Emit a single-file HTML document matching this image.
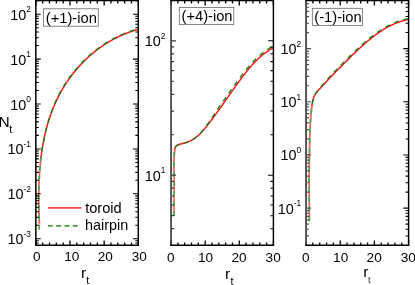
<!DOCTYPE html><html><head><meta charset="utf-8"><style>html,body{margin:0;padding:0;background:#fff}body{width:415px;height:285px;overflow:hidden}</style></head><body><svg width="415" height="285" viewBox="0 0 415 285" style="will-change:transform;display:block;font-family:'Liberation Sans',sans-serif"><rect width="415" height="285" fill="#fff"/><path d="M39.47,224.27L39.42,223.31L39.38,222.35L39.34,221.39L39.29,220.43L39.25,219.47L39.22,218.50L39.18,217.53L39.14,216.56L39.11,215.59L39.07,214.62L39.04,213.64L39.01,212.67L38.98,211.69L38.96,210.71L38.93,209.73L38.91,208.75L38.89,207.77L38.87,206.79L38.85,205.80L38.83,204.82L38.82,203.83L38.81,202.84L38.80,201.85L38.79,200.86L38.78,199.87L38.78,198.88L38.78,197.89L38.78,196.90L38.78,195.90L38.79,194.91L38.79,193.91L38.80,192.91L38.81,191.92L38.83,190.92L38.85,189.92L38.87,188.92L38.89,187.92L38.91,186.92L38.94,185.92L38.97,184.92L39.01,183.92L39.04,182.92L39.08,181.92L39.12,180.92L39.17,179.92L39.21,178.91L39.26,177.91L39.32,176.91L39.37,175.91L39.43,174.90L39.50,173.90L39.56,172.90L39.63,171.90L39.70,170.89L39.78,169.89L39.86,168.89L39.94,167.89L40.03,166.89L40.12,165.89L40.21,164.89L40.31,163.88L40.41,162.88L40.51,161.88L40.62,160.89L40.73,159.89L40.84,158.89L40.96,157.89" fill="none" stroke="#ff5c5c" stroke-width="1.7"/><path d="M40.96,157.89L41.08,156.89L41.21,155.90L41.34,154.90L41.47,153.91L41.61,152.91L41.75,151.92L41.90,150.93L42.05,149.94L42.20,148.95L42.36,147.96L42.52,146.97L42.69,145.98L42.86,144.99L43.04,144.01L43.22,143.02L43.40,142.04L43.59,141.06L43.79,140.08L43.98,139.10L44.19,138.12L44.39,137.14L44.60,136.16L44.82,135.19L45.04,134.22L45.27,133.25L45.50,132.28L45.74,131.31L45.98,130.34L46.22,129.38L46.47,128.41L46.73,127.45L46.99,126.49L47.25,125.53L47.52,124.58L47.80,123.62L48.08,122.67L48.37,121.72L48.66,120.77L48.96,119.83L49.26,118.88L49.57,117.94L49.88,117.00L50.20,116.06L50.52,115.12L50.85,114.19L51.19,113.26L51.53,112.33L51.88,111.40L52.23,110.48L52.59,109.56L52.95,108.64L53.32,107.72L53.70,106.80L54.08,105.89L54.47,104.98L54.87,104.07L55.27,103.17L55.67,102.27L56.08,101.37L56.50,100.47L56.93,99.58L57.36,98.69L57.80,97.80L58.24,96.92L58.69,96.04L59.14,95.16L59.61,94.28L60.07,93.41L60.55,92.54L61.03,91.67L61.52,90.81L62.01,89.95L62.51,89.09L63.01,88.24L63.52,87.39L64.04,86.55L64.56,85.70L65.09,84.87L65.62,84.03L66.16,83.20L66.71,82.37L67.26,81.55L67.82,80.73L68.38,79.92L68.95,79.10L69.52,78.30L70.10,77.49L70.69,76.69L71.28,75.90L71.88,75.11L72.48,74.32L73.09,73.54L73.70,72.76L74.32,71.99L74.95,71.22L75.58,70.45L76.22,69.69L76.86,68.94L77.50,68.19L78.16,67.44L78.82,66.70L79.48,65.96L80.15,65.23L80.82,64.51L81.50,63.78L82.19,63.07L82.88,62.36L83.57,61.65L84.28,60.95L84.98,60.25L85.69,59.56L86.41,58.88L87.13,58.20L87.86,57.52L88.59,56.85L89.33,56.19L90.07,55.53L90.82,54.88L91.57,54.23L92.33,53.59L93.09,52.95L93.86,52.33L94.63,51.70L95.41,51.08L96.19,50.47L96.98,49.87L97.77,49.27L98.57,48.67L99.37,48.09L100.18,47.50L100.99,46.93L101.81,46.36L102.63,45.80L103.46,45.24L104.29,44.69L105.12,44.15L105.96,43.61L106.81,43.08L107.66,42.56L108.51,42.04L109.37,41.53L110.23,41.03L111.10,40.54L111.97,40.05L112.85,39.56L113.73,39.09L114.62,38.62L115.51,38.16L116.40,37.71L117.30,37.26L118.21,36.82L119.12,36.39L120.03,35.96L120.95,35.55L121.87,35.14L122.79,34.73L123.72,34.34L124.66,33.95L125.60,33.57L126.54,33.20L127.49,32.84L128.44,32.48L129.39,32.13L130.35,31.79L131.31,31.46L132.28,31.13L133.25,30.82L134.23,30.51L135.21,30.21L136.19,29.92L137.18,29.63L138.17,29.36" fill="none" stroke="#ff1a1a" stroke-width="1.5" stroke-linejoin="round"/><path d="M39.00,229.70L39.47,224.27L39.42,223.31L39.38,222.35L39.34,221.39L39.29,220.43L39.25,219.47L39.22,218.50L39.18,217.53L39.14,216.56L39.11,215.59L39.07,214.62L39.04,213.64L39.01,212.67L38.98,211.69L38.96,210.71L38.93,209.73L38.91,208.75L38.89,207.77L38.87,206.79L38.85,205.80L38.83,204.82L38.82,203.83L38.81,202.84L38.80,201.85L38.79,200.86L38.78,199.87L38.78,198.88L38.78,197.89L38.78,196.90L38.78,195.90L38.79,194.91L38.79,193.91L38.80,192.91L38.81,191.92L38.83,190.92L38.85,189.92L38.87,188.92L38.89,187.92L38.91,186.92L38.94,185.92L38.97,184.92L39.01,183.92L39.04,182.92L39.08,181.92L39.12,180.92L39.17,179.92L39.21,178.91L39.26,177.91L39.32,176.91L39.37,175.91L39.43,174.90L39.50,173.90L39.56,172.90L39.63,171.90L39.70,170.89L39.78,169.89L39.86,168.89L39.94,167.89L40.03,166.89L40.12,165.89L40.21,164.89L40.31,163.88L40.41,162.88L40.51,161.88L40.62,160.89L40.73,159.89L40.84,158.89L40.96,157.89L40.96,157.89" fill="none" stroke="#4fa84f" stroke-width="1.7" stroke-dasharray="5.0 4.8"/><path d="M40.96,157.89L41.08,156.89L41.21,155.90L41.34,154.90L41.47,153.91L41.61,152.91L41.75,151.92L41.90,150.93L42.04,149.94L42.20,148.94L42.35,147.95L42.51,146.96L42.67,145.98L42.84,144.99L43.01,144.00L43.19,143.02L43.37,142.03L43.55,141.05L43.74,140.07L43.93,139.08L44.13,138.11L44.33,137.13L44.54,136.15L44.75,135.17L44.96,134.20L45.19,133.23L45.41,132.26L45.64,131.29L45.88,130.32L46.12,129.35L46.36,128.38L46.61,127.42L46.86,126.46L47.12,125.50L47.39,124.54L47.66,123.58L47.93,122.63L48.21,121.67L48.50,120.72L48.79,119.77L49.08,118.82L49.38,117.88L49.69,116.93L50.00,115.99L50.32,115.05L50.64,114.11L50.97,113.18L51.30,112.24L51.64,111.31L51.99,110.38L52.34,109.46L52.70,108.53L53.06,107.61L53.43,106.69L53.80,105.77L54.18,104.86L54.57,103.94L54.96,103.03L55.36,102.13L55.76,101.22L56.17,100.32L56.59,99.42L57.01,98.52L57.44,97.62L57.87,96.73L58.31,95.84L58.76,94.96L59.21,94.07L59.67,93.19L60.14,92.31L60.61,91.44L61.09,90.57L61.57,89.70L62.07,88.84L62.58,87.99L63.09,87.13L63.61,86.28L64.13,85.44L64.66,84.60L65.20,83.76L65.74,82.93L66.29,82.10L66.84,81.27L67.40,80.45L67.97,79.63L68.54,78.82L69.12,78.00L69.70,77.20L70.29,76.40L70.88,75.60L71.48,74.80L72.08,74.01L72.70,73.23L73.31,72.45L73.93,71.67L74.56,70.90L75.19,70.13L75.83,69.37L76.48,68.61L77.13,67.86L77.78,67.11L78.44,66.37L79.11,65.63L79.78,64.89L80.46,64.16L81.14,63.44L81.83,62.72L82.52,62.01L83.22,61.30L83.92,60.59L84.63,59.89L85.35,59.20L86.07,58.51L86.79,57.83L87.52,57.15L88.26,56.48L89.00,55.82L89.74,55.16L90.49,54.50L91.25,53.85L92.01,53.21L92.77,52.57L93.54,51.94L94.32,51.31L95.10,50.69L95.89,50.08L96.68,49.47L97.47,48.87L98.27,48.27L99.08,47.68L99.89,47.10L100.70,46.52L101.52,45.95L102.35,45.38L103.18,44.83L104.01,44.28L104.85,43.73L105.70,43.19L106.54,42.66L107.40,42.13L108.25,41.62L109.12,41.10L109.98,40.60L110.86,40.10L111.73,39.61L112.61,39.13L113.50,38.65L114.39,38.18L115.28,37.72L116.18,37.26L117.08,36.81L117.99,36.37L118.90,35.94L119.82,35.51L120.74,35.09L121.67,34.68L122.60,34.28L123.53,33.88L124.47,33.49L125.41,33.11L126.36,32.74L127.31,32.37L128.26,32.01L129.22,31.66L130.19,31.32L131.15,30.99L132.12,30.66L133.10,30.34L134.08,30.03L135.06,29.73L136.05,29.44L137.04,29.15L138.04,28.87" fill="none" stroke="#148214" stroke-width="1.35" stroke-dasharray="5.0 4.8" stroke-dashoffset="3.32" stroke-linejoin="round"/><path d="M35.85,243.05h3.0M35.85,240.75h3.0M35.85,238.70h4.9M35.85,225.18h3.0M35.85,217.28h3.0M35.85,211.67h3.0M35.85,207.32h3.0M35.85,203.76h3.0M35.85,200.76h3.0M35.85,198.15h3.0M35.85,195.85h3.0M35.85,193.80h4.9M35.85,180.28h3.0M35.85,172.38h3.0M35.85,166.77h3.0M35.85,162.42h3.0M35.85,158.86h3.0M35.85,155.86h3.0M35.85,153.25h3.0M35.85,150.95h3.0M35.85,148.90h4.9M35.85,135.38h3.0M35.85,127.48h3.0M35.85,121.87h3.0M35.85,117.52h3.0M35.85,113.96h3.0M35.85,110.96h3.0M35.85,108.35h3.0M35.85,106.05h3.0M35.85,104.00h4.9M35.85,90.48h3.0M35.85,82.58h3.0M35.85,76.97h3.0M35.85,72.62h3.0M35.85,69.06h3.0M35.85,66.06h3.0M35.85,63.45h3.0M35.85,61.15h3.0M35.85,59.10h4.9M35.85,45.58h3.0M35.85,37.68h3.0M35.85,32.07h3.0M35.85,27.72h3.0M35.85,24.16h3.0M35.85,21.16h3.0M35.85,18.55h3.0M35.85,16.25h3.0M35.85,14.20h4.9M35.85,0.68h3.0" fill="none" stroke="#000" stroke-width="1.05"/><path d="M138.30,243.05h-3.0M138.30,240.75h-3.0M138.30,238.70h-5.300000000000001M138.30,225.18h-3.0M138.30,217.28h-3.0M138.30,211.67h-3.0M138.30,207.32h-3.0M138.30,203.76h-3.0M138.30,200.76h-3.0M138.30,198.15h-3.0M138.30,195.85h-3.0M138.30,193.80h-5.300000000000001M138.30,180.28h-3.0M138.30,172.38h-3.0M138.30,166.77h-3.0M138.30,162.42h-3.0M138.30,158.86h-3.0M138.30,155.86h-3.0M138.30,153.25h-3.0M138.30,150.95h-3.0M138.30,148.90h-5.300000000000001M138.30,135.38h-3.0M138.30,127.48h-3.0M138.30,121.87h-3.0M138.30,117.52h-3.0M138.30,113.96h-3.0M138.30,110.96h-3.0M138.30,108.35h-3.0M138.30,106.05h-3.0M138.30,104.00h-5.300000000000001M138.30,90.48h-3.0M138.30,82.58h-3.0M138.30,76.97h-3.0M138.30,72.62h-3.0M138.30,69.06h-3.0M138.30,66.06h-3.0M138.30,63.45h-3.0M138.30,61.15h-3.0M138.30,59.10h-5.300000000000001M138.30,45.58h-3.0M138.30,37.68h-3.0M138.30,32.07h-3.0M138.30,27.72h-3.0M138.30,24.16h-3.0M138.30,21.16h-3.0M138.30,18.55h-3.0M138.30,16.25h-3.0M138.30,14.20h-5.300000000000001M138.30,0.68h-3.0" fill="none" stroke="#000" stroke-width="1.05"/><path d="M35.85,0.6v4.9M35.85,245.2v-4.8M42.68,0.6v2.95M42.68,245.2v-2.6M49.51,0.6v2.95M49.51,245.2v-2.6M56.34,0.6v2.95M56.34,245.2v-2.6M63.17,0.6v2.95M63.17,245.2v-2.6M70.00,0.6v4.9M70.00,245.2v-4.8M76.83,0.6v2.95M76.83,245.2v-2.6M83.66,0.6v2.95M83.66,245.2v-2.6M90.49,0.6v2.95M90.49,245.2v-2.6M97.32,0.6v2.95M97.32,245.2v-2.6M104.15,0.6v4.9M104.15,245.2v-4.8M110.98,0.6v2.95M110.98,245.2v-2.6M117.81,0.6v2.95M117.81,245.2v-2.6M124.64,0.6v2.95M124.64,245.2v-2.6M131.47,0.6v2.95M131.47,245.2v-2.6M138.30,0.6v4.9M138.30,245.2v-4.8" fill="none" stroke="#000" stroke-width="1.3"/><path d="M35.85,-0.09999999999999998V245.89999999999998" stroke="#000" stroke-width="1.5"/><path d="M138.30,-0.09999999999999998V245.89999999999998M35.10,0.6H139.05M35.10,245.2H139.05" stroke="#000" stroke-width="1.45" fill="none"/><text x="26.34" y="19.7" font-size="14.4" text-anchor="end">10</text><text x="30.95" y="12.4" font-size="8.3" text-anchor="end">2</text><text x="26.34" y="64.6" font-size="14.4" text-anchor="end">10</text><text x="30.95" y="57.3" font-size="8.3" text-anchor="end">1</text><text x="26.34" y="109.5" font-size="14.4" text-anchor="end">10</text><text x="30.95" y="102.2" font-size="8.3" text-anchor="end">0</text><text x="23.57" y="154.4" font-size="14.4" text-anchor="end">10</text><text x="30.95" y="147.1" font-size="8.3" text-anchor="end">-1</text><text x="23.57" y="199.3" font-size="14.4" text-anchor="end">10</text><text x="30.95" y="192.0" font-size="8.3" text-anchor="end">-2</text><text x="23.57" y="244.2" font-size="14.4" text-anchor="end">10</text><text x="30.95" y="236.9" font-size="8.3" text-anchor="end">-3</text><text x="36.90" y="261.3" font-size="13.6" text-anchor="middle">0</text><text x="71.75" y="261.3" font-size="13.6" text-anchor="middle">10</text><text x="105.20" y="261.3" font-size="13.6" text-anchor="middle">20</text><text x="139.35" y="261.3" font-size="13.6" text-anchor="middle">30</text><text x="80.9" y="277.6" font-size="15.5">r</text><text x="86.3" y="283.9" font-size="10.8">t</text><rect x="43.6" y="8.8" width="54.7" height="17.4" fill="#fff" stroke="#666" stroke-width="0.8"/><text x="45.8" y="23.0" font-size="14.7">(+1)-ion</text><path d="M174.14,215.00L174.11,214.12L174.09,213.24L174.07,212.36L174.05,211.48L174.04,210.59L174.03,209.71L174.03,208.83L174.02,207.95L174.02,207.07L174.02,206.19L174.02,205.31L174.02,204.43L174.03,203.55L174.03,202.67L174.04,201.79L174.05,200.91L174.06,200.03L174.07,199.15L174.08,198.28L174.09,197.40L174.11,196.52L174.12,195.64L174.13,194.76L174.14,193.88L174.15,193.00L174.16,192.12L174.17,191.25L174.18,190.37L174.19,189.49L174.20,188.61L174.21,187.73L174.21,186.85L174.21,185.97L174.21,185.09L174.21,184.21L174.21,183.33L174.20,182.45L174.20,181.57L174.19,180.69L174.17,179.81L174.16,178.93L174.14,178.05L174.13,177.17L174.11,176.29L174.09,175.40L174.07,174.52L174.05,173.64L174.03,172.76L174.02,171.88L174.00,171.00L173.99,170.11L173.97,169.23L173.96,168.35L173.95,167.47L173.94,166.58L173.94,165.70L173.94,164.82L173.94,163.94L173.95,163.05L173.96,162.17L173.97,161.29L173.99,160.41L174.02,159.53L174.05,158.64L174.08,157.76L174.12,156.88L174.17,156.00L174.22,155.11L174.29,154.23L174.35,153.35L174.43,152.47L174.51,151.59L174.60,150.71L174.71,149.83" fill="none" stroke="#ff5c5c" stroke-width="1.7"/><path d="M174.71,149.83L174.85,148.98L175.04,148.16L175.30,147.39L175.65,146.69L176.10,146.07L176.69,145.55L177.39,145.13L178.19,144.79L179.05,144.50L179.93,144.23L180.81,143.98L181.70,143.74L182.60,143.51L183.49,143.28L184.38,143.04L185.26,142.80L186.13,142.54L186.98,142.25L187.82,141.95L188.65,141.62L189.46,141.26L190.25,140.89L191.03,140.49L191.79,140.08L192.55,139.64L193.29,139.19L194.01,138.71L194.73,138.22L195.43,137.71L196.12,137.19L196.80,136.65L197.46,136.10L198.12,135.53L198.77,134.95L199.41,134.35L200.04,133.74L200.66,133.13L201.27,132.50L201.88,131.86L202.48,131.21L203.07,130.55L203.65,129.89L204.23,129.22L204.80,128.54L205.37,127.86L205.93,127.17L206.49,126.48L207.04,125.78L207.59,125.08L208.14,124.38L208.69,123.67L209.23,122.97L209.77,122.27L210.31,121.56L210.84,120.86L211.37,120.15L211.91,119.44L212.44,118.73L212.96,118.03L213.49,117.32L214.01,116.61L214.54,115.90L215.06,115.19L215.58,114.48L216.09,113.76L216.61,113.05L217.13,112.34L217.64,111.63L218.15,110.91L218.66,110.20L219.17,109.49L219.68,108.77L220.19,108.06L220.70,107.34L221.21,106.63L221.71,105.91L222.22,105.20L222.72,104.48L223.23,103.77L223.73,103.05L224.24,102.33L224.74,101.62L225.24,100.90L225.74,100.18L226.25,99.47L226.75,98.75L227.25,98.03L227.75,97.32L228.26,96.60L228.76,95.88L229.26,95.16L229.77,94.45L230.27,93.73L230.77,93.01L231.28,92.30L231.78,91.58L232.29,90.86L232.80,90.15L233.30,89.43L233.81,88.72L234.32,88.00L234.83,87.29L235.34,86.57L235.85,85.85L236.37,85.14L236.88,84.43L237.40,83.71L237.91,83.00L238.43,82.29L238.95,81.57L239.48,80.86L240.00,80.15L240.52,79.44L241.05,78.73L241.58,78.02L242.11,77.31L242.64,76.60L243.18,75.89L243.72,75.19L244.26,74.49L244.80,73.79L245.35,73.09L245.89,72.39L246.45,71.70L247.00,71.01L247.56,70.32L248.12,69.64L248.68,68.96L249.25,68.28L249.82,67.61L250.40,66.94L250.98,66.27L251.56,65.61L252.15,64.95L252.74,64.30L253.34,63.65L253.94,63.01L254.54,62.38L255.15,61.74L255.77,61.12L256.39,60.50L257.01,59.89L257.64,59.28L258.28,58.68L258.92,58.08L259.56,57.50L260.22,56.92L260.87,56.34L261.54,55.78L262.21,55.22L262.88,54.67L263.56,54.12L264.25,53.59L264.94,53.06L265.64,52.55L266.35,52.04L267.06,51.54L267.78,51.05L268.51,50.56L269.25,50.09L269.99,49.63L270.74,49.18L271.49,48.73L272.26,48.30L273.03,47.88" fill="none" stroke="#ff1a1a" stroke-width="1.5" stroke-linejoin="round"/><path d="M174.10,215.90L174.14,215.00L174.11,214.12L174.09,213.24L174.07,212.36L174.05,211.48L174.04,210.59L174.03,209.71L174.03,208.83L174.02,207.95L174.02,207.07L174.02,206.19L174.02,205.31L174.02,204.43L174.03,203.55L174.03,202.67L174.04,201.79L174.05,200.91L174.06,200.03L174.07,199.15L174.08,198.28L174.09,197.40L174.11,196.52L174.12,195.64L174.13,194.76L174.14,193.88L174.15,193.00L174.16,192.12L174.17,191.25L174.18,190.37L174.19,189.49L174.20,188.61L174.21,187.73L174.21,186.85L174.21,185.97L174.21,185.09L174.21,184.21L174.21,183.33L174.20,182.45L174.20,181.57L174.19,180.69L174.17,179.81L174.16,178.93L174.14,178.05L174.13,177.17L174.11,176.29L174.09,175.40L174.07,174.52L174.05,173.64L174.03,172.76L174.02,171.88L174.00,171.00L173.99,170.11L173.97,169.23L173.96,168.35L173.95,167.47L173.94,166.58L173.94,165.70L173.94,164.82L173.94,163.94L173.95,163.05L173.96,162.17L173.97,161.29L173.99,160.41L174.02,159.53L174.05,158.64L174.08,157.76L174.12,156.88L174.17,156.00L174.22,155.11L174.29,154.23L174.35,153.35L174.43,152.47L174.51,151.59L174.60,150.71L174.71,149.83L174.71,149.83" fill="none" stroke="#4fa84f" stroke-width="1.7" stroke-dasharray="5.0 4.8"/><path d="M174.71,149.83L174.85,148.98L175.04,148.16L175.30,147.39L175.65,146.69L176.10,146.07L176.69,145.55L177.39,145.13L178.19,144.79L179.05,144.50L179.93,144.23L180.81,143.98L181.70,143.74L182.60,143.51L183.49,143.28L184.38,143.04L185.26,142.80L186.13,142.54L186.98,142.25L187.82,141.95L188.65,141.62L189.46,141.26L190.25,140.89L191.03,140.49L191.79,140.08L192.55,139.64L193.29,139.19L194.01,138.71L194.73,138.22L195.43,137.71L196.12,137.19L196.80,136.65L197.46,136.10L198.12,135.53L198.77,134.95L199.39,134.33L199.99,133.70L200.58,133.05L201.16,132.39L201.74,131.73L202.30,131.05L202.86,130.37L203.41,129.68L203.96,128.99L204.50,128.29L205.04,127.58L205.57,126.87L206.09,126.16L206.62,125.44L207.14,124.72L207.65,124.00L208.17,123.27L208.68,122.55L209.19,121.82L209.69,121.10L210.20,120.37L210.70,119.64L211.20,118.92L211.70,118.19L212.20,117.46L212.70,116.73L213.19,116.00L213.68,115.27L214.18,114.54L214.67,113.81L215.15,113.08L215.64,112.35L216.13,111.62L216.61,110.89L217.09,110.15L217.58,109.42L218.06,108.69L218.54,107.96L219.02,107.22L219.50,106.49L219.98,105.76L220.49,105.05L220.99,104.33L221.50,103.62L222.00,102.90L222.50,102.19L223.01,101.47L223.51,100.75L224.01,100.04L224.52,99.32L225.02,98.61L225.52,97.89L226.02,97.17L226.53,96.45L227.03,95.74L227.53,95.02L228.03,94.30L228.54,93.59L229.04,92.87L229.55,92.15L230.05,91.43L230.56,90.72L231.06,90.00L231.57,89.28L232.08,88.56L232.59,87.85L233.10,87.13L233.61,86.41L234.12,85.70L234.63,84.98L235.15,84.26L235.66,83.55L236.18,82.83L236.70,82.12L237.22,81.40L237.74,80.69L238.27,79.97L238.79,79.26L239.32,78.54L239.85,77.83L240.38,77.12L240.91,76.41L241.45,75.69L241.99,74.98L242.53,74.28L243.07,73.57L243.62,72.86L244.17,72.16L244.72,71.46L245.27,70.76L245.83,70.07L246.40,69.37L246.96,68.68L247.53,68.00L248.11,67.31L248.68,66.63L249.27,65.95L249.85,65.28L250.44,64.61L251.04,63.95L251.64,63.29L252.24,62.63L252.85,61.98L253.46,61.34L254.08,60.70L254.70,60.06L255.33,59.43L255.97,58.81L256.61,58.19L257.25,57.58L257.90,56.98L258.56,56.38L259.22,55.79L259.89,55.21L260.57,54.63L261.25,54.06L261.94,53.50L262.63,52.95L263.34,52.40L264.04,51.86L264.76,51.33L265.48,50.81L266.21,50.30L266.95,49.80L267.69,49.31L268.44,48.82L269.20,48.35L269.97,47.89L270.75,47.43L271.53,46.99L272.32,46.56" fill="none" stroke="#148214" stroke-width="1.35" stroke-dasharray="5.0 4.8" stroke-dashoffset="7.30" stroke-linejoin="round"/><path d="M171.05,228.68h3.0M171.05,215.66h3.0M171.05,205.02h3.0M171.05,196.02h3.0M171.05,188.22h3.0M171.05,181.35h3.0M171.05,175.20h4.9M171.05,134.74h3.0M171.05,111.07h3.0M171.05,94.28h3.0M171.05,81.26h3.0M171.05,70.62h3.0M171.05,61.62h3.0M171.05,53.82h3.0M171.05,46.95h3.0M171.05,40.80h4.9" fill="none" stroke="#3a3a3a" stroke-width="1.2"/><path d="M273.40,228.68h-3.0M273.40,215.66h-3.0M273.40,205.02h-3.0M273.40,196.02h-3.0M273.40,188.22h-3.0M273.40,181.35h-3.0M273.40,175.20h-5.300000000000001M273.40,134.74h-3.0M273.40,111.07h-3.0M273.40,94.28h-3.0M273.40,81.26h-3.0M273.40,70.62h-3.0M273.40,61.62h-3.0M273.40,53.82h-3.0M273.40,46.95h-3.0M273.40,40.80h-5.300000000000001" fill="none" stroke="#000" stroke-width="1.05"/><path d="M171.05,0.6v4.9M171.05,245.2v-4.8M177.87,0.6v2.95M177.87,245.2v-2.6M184.70,0.6v2.95M184.70,245.2v-2.6M191.52,0.6v2.95M191.52,245.2v-2.6M198.34,0.6v2.95M198.34,245.2v-2.6M205.17,0.6v4.9M205.17,245.2v-4.8M211.99,0.6v2.95M211.99,245.2v-2.6M218.81,0.6v2.95M218.81,245.2v-2.6M225.64,0.6v2.95M225.64,245.2v-2.6M232.46,0.6v2.95M232.46,245.2v-2.6M239.28,0.6v4.9M239.28,245.2v-4.8M246.11,0.6v2.95M246.11,245.2v-2.6M252.93,0.6v2.95M252.93,245.2v-2.6M259.75,0.6v2.95M259.75,245.2v-2.6M266.58,0.6v2.95M266.58,245.2v-2.6M273.40,0.6v4.9M273.40,245.2v-4.8" fill="none" stroke="#000" stroke-width="1.3"/><path d="M171.05,-0.09999999999999998V245.89999999999998" stroke="#3a3a3a" stroke-width="1.65"/><path d="M273.40,-0.09999999999999998V245.89999999999998M170.30,0.6H274.15M170.30,245.2H274.15" stroke="#000" stroke-width="1.45" fill="none"/><text x="160.84" y="46.3" font-size="14.4" text-anchor="end">10</text><text x="165.45" y="39.0" font-size="8.3" text-anchor="end">2</text><text x="160.84" y="180.7" font-size="14.4" text-anchor="end">10</text><text x="165.45" y="173.4" font-size="8.3" text-anchor="end">1</text><text x="170.80" y="261.6" font-size="13.6" text-anchor="middle">0</text><text x="205.62" y="261.6" font-size="13.6" text-anchor="middle">10</text><text x="239.03" y="261.6" font-size="13.6" text-anchor="middle">20</text><text x="273.15" y="261.6" font-size="13.6" text-anchor="middle">30</text><text x="225.0" y="278.8" font-size="15.5">r</text><text x="230.4" y="285.1" font-size="10.8">t</text><rect x="179.3" y="7.5" width="54.5" height="17.0" fill="#fff" stroke="#666" stroke-width="0.8"/><text x="181.5" y="21.3" font-size="14.7">(+4)-ion</text><path d="M309.36,217.52L309.35,216.49L309.34,215.46L309.33,214.43L309.32,213.40L309.31,212.37L309.30,211.34L309.29,210.32L309.29,209.29L309.28,208.26L309.27,207.23L309.26,206.20L309.26,205.18L309.25,204.15L309.24,203.12L309.24,202.09L309.23,201.07L309.22,200.04L309.22,199.02L309.21,197.99L309.21,196.96L309.20,195.94L309.20,194.91L309.20,193.89L309.19,192.86L309.19,191.84L309.19,190.81L309.18,189.79L309.18,188.76L309.18,187.74L309.18,186.71L309.18,185.69L309.18,184.66L309.18,183.64L309.18,182.61L309.18,181.59L309.18,180.57L309.18,179.54L309.18,178.52L309.19,177.49L309.19,176.47L309.19,175.45L309.20,174.42L309.20,173.40L309.21,172.38L309.21,171.35L309.22,170.33L309.23,169.30L309.24,168.28L309.24,167.26L309.25,166.23L309.26,165.21L309.27,164.18L309.28,163.16L309.29,162.14L309.31,161.11L309.32,160.09L309.33,159.06L309.35,158.04L309.36,157.01L309.38,155.99L309.39,154.96L309.41,153.94L309.43,152.91L309.45,151.89L309.46,150.86L309.48,149.84L309.51,148.81L309.53,147.79L309.55,146.76L309.57,145.73L309.60,144.71L309.62,143.68L309.65,142.66L309.67,141.63L309.70,140.60L309.73,139.57L309.76,138.55L309.79,137.52L309.82,136.49L309.85,135.46L309.88,134.43L309.91,133.40L309.95,132.38L309.99,131.35L310.03,130.32L310.07,129.29L310.11,128.26L310.16,127.23L310.20,126.20L310.25,125.17L310.31,124.15L310.36,123.12L310.42,122.09L310.49,121.06L310.55,120.03L310.62,119.01L310.70,117.98L310.78,116.95L310.86,115.93L310.95,114.90L311.04,113.88L311.14,112.86L311.24,111.83L311.34,110.81L311.46,109.79L311.57,108.77L311.70,107.75" fill="none" stroke="#ff5c5c" stroke-width="1.7"/><path d="M311.70,107.75L311.83,106.73L311.96,105.71L312.10,104.69L312.26,103.68L312.43,102.67L312.62,101.67L312.83,100.69L313.07,99.71L313.34,98.75L313.66,97.81L314.01,96.88L314.40,95.98L314.85,95.11L315.34,94.25L315.88,93.42L316.46,92.61L317.07,91.82L317.71,91.04L318.37,90.26L319.05,89.50L319.74,88.74L320.43,87.99L321.13,87.23L321.82,86.48L322.52,85.72L323.22,84.97L323.92,84.22L324.63,83.46L325.33,82.71L326.04,81.96L326.75,81.21L327.46,80.46L328.17,79.72L328.88,78.97L329.60,78.22L330.31,77.48L331.03,76.73L331.75,75.99L332.46,75.24L333.18,74.50L333.90,73.76L334.62,73.02L335.34,72.28L336.06,71.54L336.78,70.80L337.50,70.06L338.22,69.33L338.95,68.59L339.67,67.86L340.39,67.13L341.11,66.39L341.83,65.66L342.55,64.93L343.27,64.20L344.00,63.47L344.72,62.74L345.44,62.02L346.16,61.29L346.88,60.57L347.60,59.85L348.32,59.13L349.05,58.41L349.77,57.69L350.50,56.97L351.22,56.25L351.95,55.54L352.68,54.83L353.41,54.12L354.14,53.41L354.88,52.70L355.62,52.00L356.35,51.30L357.10,50.60L357.84,49.90L358.59,49.20L359.33,48.51L360.09,47.82L360.84,47.13L361.60,46.44L362.36,45.75L363.12,45.07L363.89,44.39L364.66,43.71L365.44,43.04L366.22,42.37L367.00,41.70L367.79,41.04L368.58,40.38L369.38,39.72L370.18,39.07L370.98,38.42L371.79,37.78L372.60,37.14L373.41,36.51L374.24,35.88L375.06,35.27L375.89,34.65L376.72,34.05L377.56,33.45L378.41,32.86L379.25,32.27L380.11,31.70L380.96,31.13L381.82,30.57L382.69,30.02L383.56,29.48L384.44,28.95L385.32,28.43L386.21,27.92L387.10,27.42L388.00,26.93L388.90,26.45L389.80,25.98L390.72,25.53L391.63,25.08L392.56,24.65L393.49,24.23L394.42,23.82L395.36,23.43L396.30,23.05L397.25,22.68L398.21,22.32L399.17,21.98L400.14,21.66L401.11,21.35L402.09,21.05L403.08,20.77L404.07,20.51L405.07,20.26L406.07,20.03L407.08,19.81L408.10,19.61" fill="none" stroke="#ff1a1a" stroke-width="1.5" stroke-linejoin="round"/><path d="M309.30,221.50L309.36,217.52L309.35,216.49L309.34,215.46L309.33,214.43L309.32,213.40L309.31,212.37L309.30,211.34L309.29,210.32L309.29,209.29L309.28,208.26L309.27,207.23L309.26,206.20L309.26,205.18L309.25,204.15L309.24,203.12L309.24,202.09L309.23,201.07L309.22,200.04L309.22,199.02L309.21,197.99L309.21,196.96L309.20,195.94L309.20,194.91L309.20,193.89L309.19,192.86L309.19,191.84L309.19,190.81L309.18,189.79L309.18,188.76L309.18,187.74L309.18,186.71L309.18,185.69L309.18,184.66L309.18,183.64L309.18,182.61L309.18,181.59L309.18,180.57L309.18,179.54L309.18,178.52L309.19,177.49L309.19,176.47L309.19,175.45L309.20,174.42L309.20,173.40L309.21,172.38L309.21,171.35L309.22,170.33L309.23,169.30L309.24,168.28L309.24,167.26L309.25,166.23L309.26,165.21L309.27,164.18L309.28,163.16L309.29,162.14L309.31,161.11L309.32,160.09L309.33,159.06L309.35,158.04L309.36,157.01L309.38,155.99L309.39,154.96L309.41,153.94L309.43,152.91L309.45,151.89L309.46,150.86L309.48,149.84L309.51,148.81L309.53,147.79L309.55,146.76L309.57,145.73L309.60,144.71L309.62,143.68L309.65,142.66L309.67,141.63L309.70,140.60L309.73,139.57L309.76,138.55L309.79,137.52L309.82,136.49L309.85,135.46L309.88,134.43L309.91,133.40L309.95,132.38L309.99,131.35L310.03,130.32L310.07,129.29L310.11,128.26L310.16,127.23L310.20,126.20L310.25,125.17L310.31,124.15L310.36,123.12L310.42,122.09L310.49,121.06L310.55,120.03L310.62,119.01L310.70,117.98L310.78,116.95L310.86,115.93L310.95,114.90L311.04,113.88L311.14,112.86L311.24,111.83L311.34,110.81L311.46,109.79L311.57,108.77L311.70,107.75L311.70,107.75" fill="none" stroke="#4fa84f" stroke-width="1.7" stroke-dasharray="5.0 4.8"/><path d="M311.70,107.75L311.83,106.73L311.96,105.71L312.10,104.69L312.25,103.68L312.41,102.67L312.59,101.67L312.79,100.68L313.02,99.70L313.28,98.73L313.58,97.78L313.92,96.85L314.30,95.93L314.73,95.04L315.20,94.17L315.73,93.32L316.29,92.48L316.88,91.66L317.50,90.85L318.14,90.06L318.79,89.27L319.45,88.48L320.12,87.70L320.79,86.92L321.46,86.14L322.14,85.37L322.81,84.59L323.49,83.81L324.17,83.03L324.85,82.26L325.53,81.48L326.22,80.71L326.90,79.93L327.59,79.16L328.28,78.39L328.96,77.62L329.65,76.84L330.34,76.07L331.04,75.30L331.74,74.55L332.46,73.81L333.18,73.06L333.90,72.32L334.62,71.58L335.34,70.84L336.07,70.10L336.79,69.37L337.51,68.63L338.23,67.89L338.95,67.16L339.68,66.42L340.40,65.69L341.12,64.96L341.84,64.23L342.56,63.50L343.29,62.77L344.01,62.04L344.73,61.31L345.45,60.59L346.17,59.86L346.89,59.14L347.62,58.42L348.34,57.70L349.07,56.98L349.80,56.26L350.52,55.54L351.25,54.83L351.98,54.11L352.72,53.40L353.45,52.69L354.19,51.98L354.93,51.28L355.67,50.57L356.41,49.87L357.16,49.17L357.90,48.47L358.66,47.77L359.41,47.08L360.17,46.39L360.93,45.70L361.69,45.01L362.46,44.32L363.23,43.64L364.01,42.96L364.79,42.28L365.57,41.61L366.36,40.94L367.15,40.27L367.94,39.61L368.74,38.95L369.55,38.29L370.35,37.64L371.17,36.99L371.98,36.35L372.81,35.72L373.63,35.09L374.46,34.46L375.30,33.85L376.14,33.24L376.98,32.63L377.83,32.04L378.69,31.45L379.55,30.87L380.41,30.30L381.28,29.73L382.16,29.18L383.04,28.63L383.93,28.09L384.82,27.57L385.71,27.05L386.61,26.54L387.52,26.05L388.43,25.56L389.35,25.09L390.27,24.63L391.20,24.18L392.14,23.74L393.08,23.31L394.03,22.90L394.98,22.50L395.94,22.12L396.90,21.74L397.87,21.38L398.85,21.04L399.83,20.71L400.82,20.39L401.81,20.09L402.81,19.81L403.82,19.54L404.83,19.29L405.85,19.05L406.88,18.83L407.91,18.63" fill="none" stroke="#148214" stroke-width="1.35" stroke-dasharray="5.0 4.8" stroke-dashoffset="6.03" stroke-linejoin="round"/><path d="M306.05,235.91h3.0M306.05,229.27h3.0M306.05,224.12h3.0M306.05,219.91h3.0M306.05,216.35h3.0M306.05,213.26h3.0M306.05,210.54h3.0M306.05,208.11h4.9M306.05,192.10h3.0M306.05,182.74h3.0M306.05,176.10h3.0M306.05,170.95h3.0M306.05,166.74h3.0M306.05,163.18h3.0M306.05,160.09h3.0M306.05,157.37h3.0M306.05,154.94h4.9M306.05,138.93h3.0M306.05,129.57h3.0M306.05,122.93h3.0M306.05,117.78h3.0M306.05,113.57h3.0M306.05,110.01h3.0M306.05,106.92h3.0M306.05,104.20h3.0M306.05,101.77h4.9M306.05,85.76h3.0M306.05,76.40h3.0M306.05,69.76h3.0M306.05,64.61h3.0M306.05,60.40h3.0M306.05,56.84h3.0M306.05,53.75h3.0M306.05,51.03h3.0M306.05,48.60h4.9M306.05,32.59h3.0M306.05,23.23h3.0M306.05,16.59h3.0M306.05,11.44h3.0M306.05,7.23h3.0M306.05,3.67h3.0" fill="none" stroke="#505050" stroke-width="1.2"/><path d="M408.60,235.91h-3.0M408.60,229.27h-3.0M408.60,224.12h-3.0M408.60,219.91h-3.0M408.60,216.35h-3.0M408.60,213.26h-3.0M408.60,210.54h-3.0M408.60,208.11h-5.300000000000001M408.60,192.10h-3.0M408.60,182.74h-3.0M408.60,176.10h-3.0M408.60,170.95h-3.0M408.60,166.74h-3.0M408.60,163.18h-3.0M408.60,160.09h-3.0M408.60,157.37h-3.0M408.60,154.94h-5.300000000000001M408.60,138.93h-3.0M408.60,129.57h-3.0M408.60,122.93h-3.0M408.60,117.78h-3.0M408.60,113.57h-3.0M408.60,110.01h-3.0M408.60,106.92h-3.0M408.60,104.20h-3.0M408.60,101.77h-5.300000000000001M408.60,85.76h-3.0M408.60,76.40h-3.0M408.60,69.76h-3.0M408.60,64.61h-3.0M408.60,60.40h-3.0M408.60,56.84h-3.0M408.60,53.75h-3.0M408.60,51.03h-3.0M408.60,48.60h-5.300000000000001M408.60,32.59h-3.0M408.60,23.23h-3.0M408.60,16.59h-3.0M408.60,11.44h-3.0M408.60,7.23h-3.0M408.60,3.67h-3.0" fill="none" stroke="#000" stroke-width="1.05"/><path d="M306.05,0.6v4.9M306.05,245.2v-4.8M312.89,0.6v2.95M312.89,245.2v-2.6M319.72,0.6v2.95M319.72,245.2v-2.6M326.56,0.6v2.95M326.56,245.2v-2.6M333.40,0.6v2.95M333.40,245.2v-2.6M340.23,0.6v4.9M340.23,245.2v-4.8M347.07,0.6v2.95M347.07,245.2v-2.6M353.91,0.6v2.95M353.91,245.2v-2.6M360.74,0.6v2.95M360.74,245.2v-2.6M367.58,0.6v2.95M367.58,245.2v-2.6M374.42,0.6v4.9M374.42,245.2v-4.8M381.25,0.6v2.95M381.25,245.2v-2.6M388.09,0.6v2.95M388.09,245.2v-2.6M394.93,0.6v2.95M394.93,245.2v-2.6M401.76,0.6v2.95M401.76,245.2v-2.6M408.60,0.6v4.9M408.60,245.2v-4.8" fill="none" stroke="#000" stroke-width="1.3"/><path d="M306.05,-0.09999999999999998V245.89999999999998" stroke="#505050" stroke-width="1.9"/><path d="M408.60,-0.09999999999999998V245.89999999999998M305.30,0.6H409.35M305.30,245.2H409.35" stroke="#000" stroke-width="1.45" fill="none"/><text x="296.54" y="54.1" font-size="14.4" text-anchor="end">10</text><text x="301.15" y="46.8" font-size="8.3" text-anchor="end">2</text><text x="296.54" y="107.3" font-size="14.4" text-anchor="end">10</text><text x="301.15" y="100.0" font-size="8.3" text-anchor="end">1</text><text x="296.54" y="160.4" font-size="14.4" text-anchor="end">10</text><text x="301.15" y="153.1" font-size="8.3" text-anchor="end">0</text><text x="293.77" y="213.6" font-size="14.4" text-anchor="end">10</text><text x="301.15" y="206.3" font-size="8.3" text-anchor="end">-1</text><text x="305.80" y="261.6" font-size="13.6" text-anchor="middle">0</text><text x="340.68" y="261.6" font-size="13.6" text-anchor="middle">10</text><text x="374.17" y="261.6" font-size="13.6" text-anchor="middle">20</text><text x="408.35" y="261.6" font-size="13.6" text-anchor="middle">30</text><text x="363.2" y="276.9" font-size="15.5">r</text><text x="368.1" y="283.1" font-size="9.6" fill="#2a2a2a">t</text><rect x="312.3" y="8.3" width="50.1" height="17.3" fill="#fff" stroke="#666" stroke-width="0.8"/><text x="314.3" y="22.4" font-size="14.7">(-1)-ion</text><text x="-1.5" y="126.7" font-size="15.5">N</text><text x="9.3" y="133.1" font-size="10.8">t</text><path d="M47.9,207.8H81.3" stroke="#ff4646" stroke-width="1.7"/><path d="M47.9,225.8H79" stroke="#44a044" stroke-width="1.7" stroke-dasharray="4.9 3.4"/><text x="85.2" y="212.7" font-size="14.6">toroid</text><text x="85.1" y="230.1" font-size="14.4">hairpin</text></svg></body></html>
